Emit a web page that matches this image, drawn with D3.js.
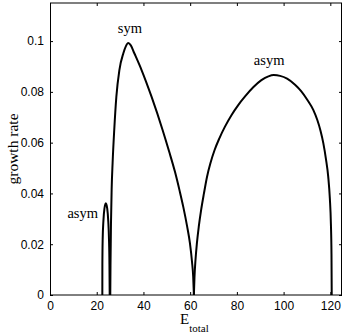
<!DOCTYPE html>
<html>
<head>
<meta charset="utf-8">
<script src="https://cdn.jsdelivr.net/npm/d3@7"></script>
<style>
  body { margin: 0; background: #fff; }
  svg { display: block; }
  .tick text { font-family: "Liberation Sans", Arial, sans-serif; font-size: 12px; fill: #000; }
  .lbl { font-family: "Liberation Serif", "Times New Roman", serif; fill: #000; }
</style>
</head>
<body>
<svg id="chart"></svg>
<script>
// growth rate vs E_total, three branches
var asymSmallE = [22.4, 22.42, 22.55, 22.85, 23.3, 23.9, 24.5, 24.95, 25.25, 25.45, 25.55];
var asymSmallG = [0, 0.012, 0.022, 0.029, 0.034, 0.0361, 0.034, 0.029, 0.022, 0.012, 0];

var symE = [25.8, 25.9, 26.1, 26.4, 26.8, 27.5, 28.4, 29.7, 31.4, 32.5, 33.5, 34.6, 36.1, 39.2, 43.5, 48.2, 51, 53.5, 55.5, 57.1, 58.7, 59.9, 60.8, 61.3, 61.6];
var symG = [0, 0.012, 0.028, 0.042, 0.052, 0.065, 0.078, 0.0886, 0.0952, 0.098, 0.0992, 0.0983, 0.0952, 0.0886, 0.078, 0.065, 0.0565, 0.0485, 0.041, 0.0345, 0.027, 0.0204, 0.013, 0.0072, 0];

var asymE = [61.6, 61.85, 62.3, 62.9, 63.7, 64.7, 65.9, 67.2, 68.7, 70.5, 72.5, 74.9, 77.8, 80.5, 83.5, 87, 90.5, 93.5, 95.8, 98.5, 101.5, 104.9, 107.5, 110.2, 112.7, 114.4, 115.8, 117.0, 118.1, 119.1, 119.8, 120.25, 120.5, 120.6];
var asymG = [0, 0.007, 0.014, 0.0205, 0.027, 0.0335, 0.04, 0.0465, 0.052, 0.0572, 0.0617, 0.0663, 0.071, 0.0747, 0.0782, 0.0818, 0.0846, 0.0861, 0.0866, 0.0863, 0.0852, 0.0828, 0.0803, 0.0768, 0.0729, 0.069, 0.0647, 0.0598, 0.0537, 0.0466, 0.038, 0.028, 0.016, 0];

var xTicks = [0, 20, 40, 60, 80, 100, 120];
var yTicks = [0, 0.02, 0.04, 0.06, 0.08, 0.1];

var labels = [
    {text: "asym", E: 14, g: 0.0303},
    {text: "sym", E: 34.2, g: 0.1031},
    {text: "asym", E: 93.8, g: 0.0906}
];

var width = 346, height = 335;
var svg = d3.select("#chart")
    .attr("width", width)
    .attr("height", height);

var x = d3.scaleLinear().domain([0, 125]).range([50, 342]);
var y = d3.scaleLinear().domain([0, 0.115]).range([295, 3]);

// axes with inward ticks
svg.append("g")
    .attr("transform", "translate(0,295)")
    .call(d3.axisBottom(x).tickValues(xTicks).tickSizeInner(-3).tickSizeOuter(0).tickPadding(6).tickFormat(d3.format("d")));

svg.append("g")
    .attr("transform", "translate(50,0)")
    .call(d3.axisLeft(y).tickValues(yTicks).tickSizeInner(-3).tickSizeOuter(0).tickPadding(6).tickFormat(d => d === 0 ? "0" : d3.format("~g")(d)));

svg.append("g")
    .attr("transform", "translate(0,3)")
    .call(d3.axisTop(x).tickValues(xTicks).tickSizeInner(-3).tickSizeOuter(0).tickFormat(""));

svg.append("g")
    .attr("transform", "translate(342,0)")
    .call(d3.axisRight(y).tickValues(yTicks).tickSizeInner(-3).tickSizeOuter(0).tickFormat(""));

svg.selectAll(".domain").remove();
svg.selectAll(".tick line").attr("stroke", "#000");

// frame
svg.append("rect")
    .attr("x", 50.5)
    .attr("y", 3)
    .attr("width", 291)
    .attr("height", 292)
    .attr("fill", "none")
    .attr("stroke", "#000")
    .attr("stroke-width", 1);

var line = d3.line()
    .x(d => x(d[0]))
    .y(d => y(d[1]))
    .curve(d3.curveMonotoneX);

[[asymSmallE, asymSmallG], [symE, symG], [asymE, asymG]].forEach(function(s) {
    svg.append("path")
        .datum(d3.zip(s[0], s[1]))
        .attr("d", line)
        .attr("fill", "none")
        .attr("stroke", "#000")
        .attr("stroke-width", 2);
});

svg.selectAll(".curveLabel")
    .data(labels)
    .enter().append("text")
    .attr("class", "lbl")
    .attr("x", d => x(d.E))
    .attr("y", d => y(d.g))
    .attr("text-anchor", "middle")
    .attr("font-size", 14.5)
    .text(d => d.text);

// axis titles
var xt = svg.append("text")
    .attr("class", "lbl")
    .attr("x", 180)
    .attr("y", 324)
    .attr("font-size", 15);
xt.append("tspan").text("E");
xt.append("tspan").attr("dy", 7.5).attr("font-size", 11).text("total");

svg.append("text")
    .attr("class", "lbl")
    .attr("transform", "translate(17.5,149) rotate(-90)")
    .attr("text-anchor", "middle")
    .attr("font-size", 15.5)
    .text("growth rate");
</script>
</body>
</html>
